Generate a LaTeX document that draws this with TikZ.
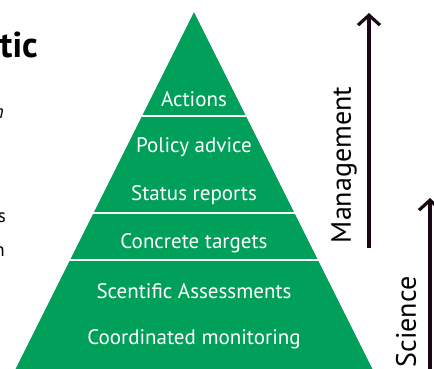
\documentclass[tikz,border=0pt]{standalone}
\usepackage{fontspec}
\setmainfont{PT Sans}
\usetikzlibrary{arrows.meta}
\definecolor{pgreen}{RGB}{0,160,90}
\definecolor{adark}{RGB}{25,8,20}
\tikzset{
  lvl/.style={text=white, font=\fontsize{21}{23}\selectfont, anchor=center, inner sep=0pt},
  sep/.style={draw=white, line width=1.5pt},
  axis/.style={draw=adark, line width=3.2pt, -{Straight Barb[length=10pt,width=22pt]}},
  axlabel/.style={font=\fontsize{28}{30}\selectfont, rotate=90, inner sep=0pt, text=black},
  frag/.style={text=black, inner sep=0pt}
}
\begin{document}
\begin{tikzpicture}[x=1pt,y=-1pt]
\useasboundingbox (0,0) rectangle (434,368);
\clip (0,0) rectangle (434,368);
% pyramid
\coordinate (apex) at (194,12);
\coordinate (bl) at (10,380);
\coordinate (br) at (378,380);
\fill[pgreen] (apex) -- (br) -- (bl) -- cycle;
\draw[sep] (142,116) -- (246,116);
\draw[sep] (93,213) -- (295,213);
\draw[sep] (68,260) -- (320,260);
% labels
\node[lvl] (actions) at (194,99) {Actions};
\node[lvl] (policy) at (194,147) {Policy advice};
\node[lvl] (status) at (194,195) {Status reports};
\node[lvl] (targets) at (194,243) {Concrete targets};
\node[lvl] (assess) at (194,291) {Scentific Assessments};
\node[lvl] (monitor) at (194,339) {Coordinated monitoring};
% arrows
\coordinate (mbot) at (369,248);
\coordinate (mtop) at (369,13);
\draw[axis] (mbot) -- (mtop);
\node[axlabel] (mgmt) at (344,165) {Management};
\coordinate (sbot) at (430,380);
\coordinate (stop) at (430,198);
\draw[axis] (sbot) -- (stop);
\node[axlabel] (sci) at (406,322) {Science};
% cropped fragments on the left
\node[frag, anchor=base east, font=\fontsize{36}{38}\selectfont\bfseries] (tic) at (38,57) {tic};
\node[frag, anchor=base east, font=\fontsize{19}{21}\selectfont\itshape] (f1) at (4,118) {n};
\node[frag, anchor=base east, font=\fontsize{19}{21}\selectfont] (f2) at (6,222) {s};
\node[frag, anchor=base east, font=\fontsize{19}{21}\selectfont] (f3) at (5,256) {n};
\end{tikzpicture}
\end{document}
